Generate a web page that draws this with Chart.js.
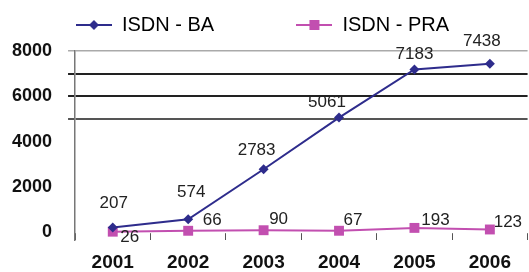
<!DOCTYPE html>
<html>
<head>
<meta charset="utf-8">
<script src="https://cdn.jsdelivr.net/npm/chart.js@4.4.0/dist/chart.umd.min.js"></script>
<style>
  html, body { margin: 0; padding: 0; background: #fff; }
  #wrap { width: 529px; height: 272px; }
</style>
</head>
<body>
<div id="wrap"><canvas id="chart"></canvas></div>
<script>
const years = ['2001', '2002', '2003', '2004', '2005', '2006'];
const baValues = [207, 574, 2783, 5061, 7183, 7438];
const praValues = [26, 66, 90, 67, 193, 123];
const yTickValues = [0, 1000, 2000, 3000, 4000, 5000, 6000, 7000, 8000];

// where each value label sits relative to its point (px)
const baLabelShift = [[1, -24], [3, -27], [-7, -19], [-12, -15], [0, -15], [-8, -22]];
const praLabelShift = [[17, 6], [24, -10], [15, -11], [14, -10], [21, -8], [18, -7]];

const BA_COLOR = '#2e2c8c';
const PRA_COLOR = '#c24fb0';
const FONT = 'Arial, "Liberation Sans", sans-serif';

// little line+marker icon for the legend
function legendIcon(color, square) {
    const c = document.createElement('canvas');
    c.width = 36;
    c.height = 12;
    const g = c.getContext('2d');
    g.strokeStyle = color;
    g.lineWidth = 2;
    g.beginPath();
    g.moveTo(0, 6);
    g.lineTo(36, 6);
    g.stroke();
    g.fillStyle = color;
    g.beginPath();
    if (square) {
        g.rect(13, 1, 10, 10);
    } else {
        g.moveTo(18, 1); g.lineTo(23, 6); g.lineTo(18, 11); g.lineTo(13, 6);
    }
    g.fill();
    return c;
}

// push the plot a bit further below the legend
const legendGap = {
    id: 'legendGap',
    beforeInit(chart) {
        const fit = chart.legend.fit;
        chart.legend.fit = function () {
            fit.call(this);
            this.height += 6;
        };
    }
};

const valueLabels = {
    id: 'valueLabels',
    afterDatasetsDraw(chart) {
        const ctx = chart.ctx;
        ctx.save();
        ctx.font = '17px ' + FONT;
        ctx.fillStyle = '#222';
        ctx.textAlign = 'center';
        ctx.textBaseline = 'middle';
        const shifts = [baLabelShift, praLabelShift];
        chart.data.datasets.forEach((ds, i) => {
            chart.getDatasetMeta(i).data.forEach((pt, j) => {
                ctx.fillText(ds.data[j], pt.x + shifts[i][j][0], pt.y + shifts[i][j][1]);
            });
        });
        ctx.restore();
    }
};

new Chart(document.getElementById('chart'), {
    type: 'line',
    data: {
        labels: years,
        datasets: [{
            label: 'ISDN - BA',
            data: baValues,
            borderColor: BA_COLOR,
            backgroundColor: BA_COLOR,
            borderWidth: 2,
            pointStyle: 'rectRot',
            pointRadius: 5,
            pointBorderWidth: 0,
            tension: 0,
            clip: false
        }, {
            label: 'ISDN - PRA',
            data: praValues,
            borderColor: PRA_COLOR,
            backgroundColor: PRA_COLOR,
            borderWidth: 2,
            pointStyle: 'rect',
            pointRadius: 7,
            pointBorderWidth: 0,
            tension: 0,
            clip: false
        }]
    },
    options: {
        responsive: true,
        maintainAspectRatio: false,
        animation: false,
        layout: { autoPadding: false, padding: { top: 5, left: -4, right: 0, bottom: -20 } },
        plugins: {
            legend: {
                labels: {
                    usePointStyle: true,
                    pointStyleWidth: 36,
                    color: '#111',
                    font: { family: FONT, size: 20 },
                    generateLabels(chart) {
                        const icons = [legendIcon(BA_COLOR, false), legendIcon(PRA_COLOR, true)];
                        return chart.data.datasets.map((ds, i) => ({
                            text: i === 0 ? ds.label + '             ' : ds.label,
                            pointStyle: icons[i],
                            fillStyle: ds.borderColor,
                            strokeStyle: ds.borderColor,
                            lineWidth: 0,
                            datasetIndex: i
                        }));
                    }
                }
            },
            tooltip: { enabled: false }
        },
        scales: {
            x: {
                offset: true,
                grid: {
                    offset: true,
                    drawOnChartArea: false,
                    tickLength: -7,
                    color: '#555'
                },
                border: { display: false },
                ticks: {
                    padding: 18,
                    color: '#111',
                    font: { family: FONT, size: 19, weight: 'bold' }
                }
            },
            y: {
                min: -350,
                max: 8000,
                afterBuildTicks(axis) {
                    axis.ticks = yTickValues.map(v => ({ value: v }));
                },
                grid: {
                    tickLength: 7,
                    color(c) {
                        const v = c.tick.value;
                        if (v === 8000) return '#aaa';
                        if (v === 5000) return '#555';
                        if (v > 5000) return '#222';
                        return 'rgba(0,0,0,0)';
                    },
                    lineWidth(c) {
                        return c.tick.value === 8000 ? 1.5 : 2;
                    }
                },
                border: { color: '#777', width: 1.5 },
                ticks: {
                    autoSkip: false,
                    padding: 16,
                    color: '#111',
                    font: { family: FONT, size: 18, weight: 'bold' },
                    callback(v) {
                        return v % 2000 === 0 ? v : '';
                    }
                }
            }
        }
    },
    plugins: [legendGap, valueLabels]
});
</script>
</body>
</html>
